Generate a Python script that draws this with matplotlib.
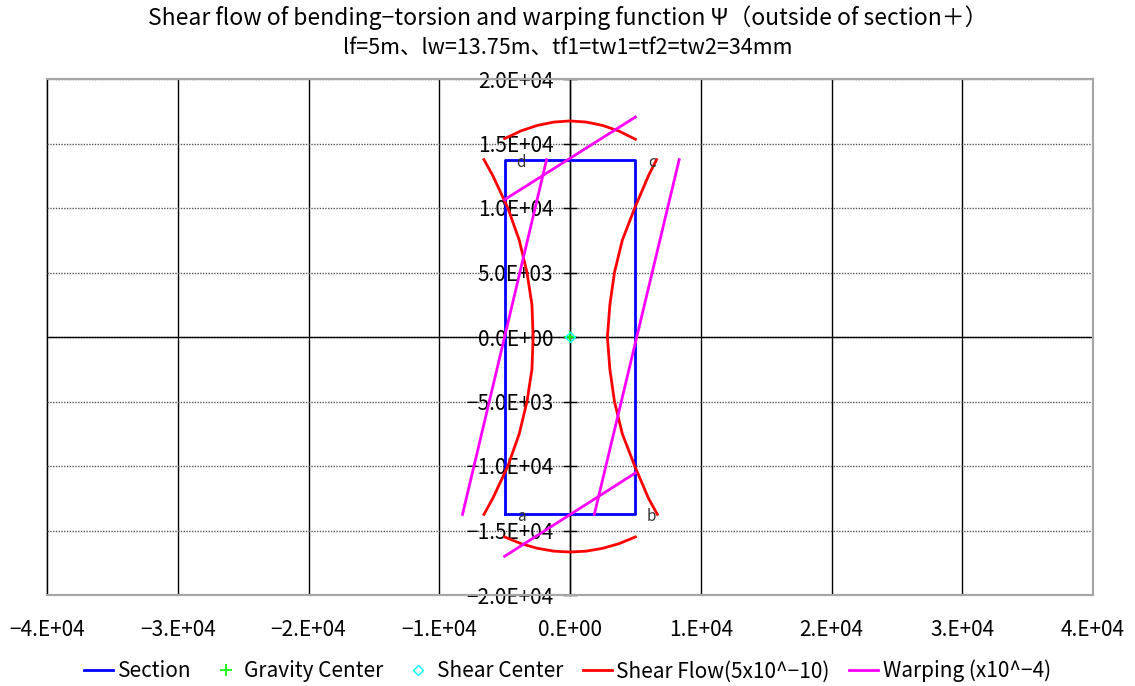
import matplotlib
matplotlib.use("Agg")
import matplotlib.pyplot as plt
from matplotlib.patches import Rectangle

plt.rcParams['font.family'] = ['Noto Sans CJK JP', 'DejaVu Sans']

# section outline (mm): a-b-c-d box
sec_x = [-5000, 5000, 5000, -5000, -5000]
sec_y = [-13750, -13750, 13750, 13750, -13750]
corner_names = ['a', 'b', 'c', 'd']
corner_x = [-3700, 6250, 6250, -3750]
corner_y = [-13950, -13950, 13550, 13550]

# shear flow (scaled 5x10^-10), plotted outward from each plate
web_y = [13750, 12500, 10000, 7500, 5000, 2500, 0,
         -2500, -5000, -7500, -10000, -12500, -13750]
sf_left_x = [-6580, -5900, -4750, -3880, -3290, -2910, -2820,
             -2910, -3290, -3880, -4750, -5900, -6580]
sf_right_x = [6620, 6000, 4950, 4000, 3400, 3050, 2860,
              3050, 3400, 4000, 4950, 6000, 6680]
flange_x = [-5000, -3750, -2500, -1250, 0, 1250, 2500, 3750, 5000]
sf_top_y = [15380, 15980, 16400, 16660, 16750, 16660, 16400, 15960, 15330]
sf_bot_y = [-15500, -16020, -16380, -16600, -16670, -16600, -16380, -16020, -15500]

# warping function (x10^-4), linear on every plate
wp_top_x, wp_top_y = [-5000, 5000], [10650, 17050]
wp_bot_x, wp_bot_y = [-5000, 5000], [-17000, -10540]
wp_left_x, wp_left_y = [-8220, -1790], [-13750, 13750]
wp_right_x, wp_right_y = [1860, 8350], [-13750, 13750]

gc = (0, 0)
sc = (0, 0)

x_ticks = [-40000, -30000, -20000, -10000, 0, 10000, 20000, 30000, 40000]
x_labels = ['−4.E+04', '−3.E+04', '−2.E+04', '−1.E+04', '0.E+00',
            '1.E+04', '2.E+04', '3.E+04', '4.E+04']
y_ticks = [20000, 15000, 10000, 5000, 0, -5000, -10000, -15000, -20000]
y_labels = ['2.0E+04', '1.5E+04', '1.0E+04', '5.0E+03', '0.0E+00',
            '−5.0E+03', '−1.0E+04', '−1.5E+04', '−2.0E+04']

fig = plt.figure(figsize=(11.35, 6.86), dpi=100)
ax = fig.add_axes([47 / 1135, 1 - 595 / 686, 1046 / 1135, 516 / 686])

# grid: solid verticals, dotted horizontals
for xv in x_ticks:
    ax.axvline(xv, color='black', lw=1, zorder=1)
for yv in y_ticks:
    ax.axhline(yv, color='#555555', lw=1, ls=(0, (1, 1)), zorder=1)
ax.axhline(0, color='black', lw=1, zorder=1)

red = '#ff0000'
mag = '#ff00ff'
l_sec, = ax.plot(sec_x, sec_y, color='#0000ff', lw=2, label='Section', zorder=3)
l_gc, = ax.plot([gc[0]], [gc[1]], ls='none', marker='+', ms=9, mew=1.2,
                color='#00ff00', label='Gravity Center', zorder=4)
l_sc, = ax.plot([sc[0]], [sc[1]], ls='none', marker='D', ms=5, mfc='none',
                mew=1, color='#00ffff', label='Shear Center', zorder=4)
l_sf, = ax.plot(sf_left_x, web_y, color=red, lw=2, label='Shear Flow(5x10^−10)', zorder=3)
ax.plot(sf_right_x, web_y, color=red, lw=2, zorder=3)
ax.plot(flange_x, sf_top_y, color=red, lw=2, zorder=3)
ax.plot(flange_x, sf_bot_y, color=red, lw=2, zorder=3)
l_wp, = ax.plot(wp_top_x, wp_top_y, color=mag, lw=2, label='Warping (x10^−4)', zorder=3)
ax.plot(wp_bot_x, wp_bot_y, color=mag, lw=2, zorder=3)
ax.plot(wp_left_x, wp_left_y, color=mag, lw=2, zorder=3)
ax.plot(wp_right_x, wp_right_y, color=mag, lw=2, zorder=3)

for name, cx, cy in zip(corner_names, corner_x, corner_y):
    ax.text(cx, cy, name, fontsize=11, color='#333333', ha='center', va='center', zorder=5)

ax.set_xlim(-40000, 40000)
ax.set_ylim(-20000, 20000)

# y axis sits on x=0 with labels beside it
ax.spines['left'].set_position(('data', 0))
ax.spines['left'].set_color('black')
ax.spines['left'].set_linewidth(1)
for s in ['top', 'right', 'bottom']:
    ax.spines[s].set_color('#a6a6a6')
    ax.spines[s].set_linewidth(1.5)
ax.add_patch(Rectangle((0, 0), 1, 1, transform=ax.transAxes, fill=False,
                       ec='#a6a6a6', lw=1.5, zorder=0.5, clip_on=False))

ax.set_yticks(y_ticks)
ax.set_yticklabels(y_labels)
ax.set_xticks(x_ticks)
ax.set_xticklabels(x_labels)
ax.tick_params(axis='y', direction='inout', length=10, width=1, pad=7, labelsize=15)
ax.tick_params(axis='x', length=0, pad=17, labelsize=15)

fig.text(0.5, 1 - 18 / 686, 'Shear flow of bending−torsion and warping function Ψ（outside of section＋）',
         ha='center', va='center', fontsize=16.5)
fig.text(0.5, 1 - 48 / 686, 'lf=5m、lw=13.75m、tf1=tw1=tf2=tw2=34mm',
         ha='center', va='center', fontsize=15.5)

fig.legend(handles=[l_sec, l_gc, l_sc, l_sf, l_wp], loc='center',
           bbox_to_anchor=(0.5, 1 - 671 / 686), ncol=5, frameon=False,
           fontsize=15, handlelength=1.4, handletextpad=0.2, columnspacing=0.95)

fig.savefig('out.png', dpi=100)
